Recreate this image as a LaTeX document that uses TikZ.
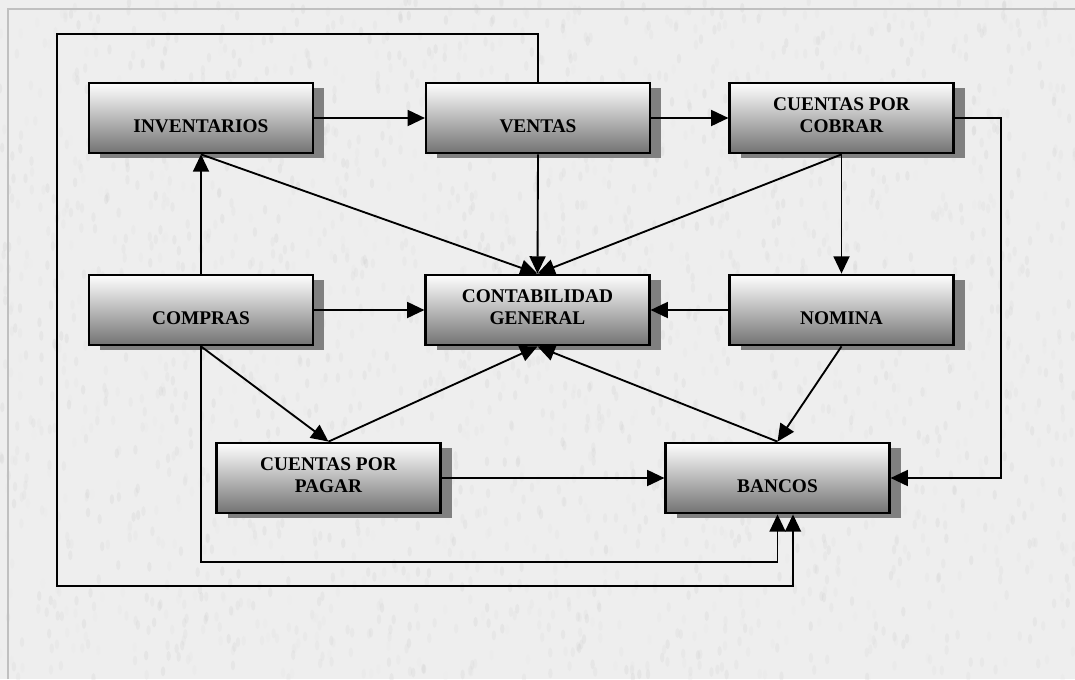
\documentclass[tikz,border=0pt]{standalone}
\usepackage{fontspec}
\setmainfont{Liberation Serif}
\usetikzlibrary{arrows.meta,shadows,calc}

\definecolor{paper}{RGB}{238,238,238}
\definecolor{edgegray}{RGB}{192,192,192}
\definecolor{shade}{RGB}{128,128,128}

\tikzset{
  box/.style={draw=black, line width=1.6pt, rectangle,
    minimum width=168pt, minimum height=53pt, inner sep=0pt,
    top color=white, bottom color=black!55,
    drop shadow={shadow xshift=8.25pt, shadow yshift=-3.75pt,
                 fill=shade, opacity=1}},
  txt/.style={font=\bfseries\fontsize{14.5}{16.5}\selectfont, align=center,
    inner sep=0pt, text=black},
  link/.style={line width=1.4pt, draw=black},
  arr/.style={link, -{Triangle[length=13pt,width=12pt]}},
}

\begin{document}
\begin{tikzpicture}[x=0.75pt,y=-0.75pt]
  % marbled paper background and its frame
  \fill[paper] (0,0) rectangle (1075,679);
  \useasboundingbox (0,0) rectangle (1075,679);
  \pgfmathsetseed{7}
  \foreach \i in {1,...,2600} {
    \pgfmathsetmacro{\px}{rnd*1075}
    \pgfmathsetmacro{\py}{rnd*679}
    \pgfmathsetmacro{\pg}{8+rnd*14}
    \fill[black!\pg, opacity=0.22] (\px,\py) ellipse (2.2 and 5);
  }
  \draw[edgegray, line width=1.5pt] (8,679) -- (8,9) -- (1075,9);

  % boxes
  \node[box] (inv) at (201,118)   {};
  \node[box] (ven) at (538,118)   {};
  \node[box] (cxc) at (841.5,118) {};
  \node[box] (com) at (201,310) {};
  \node[box] (cg)  at (537.5,310) {};
  \node[box] (nom) at (841.5,310) {};
  \node[box] (cxp) at (328.5,478) {};
  \node[box] (ban) at (777.5,478) {};

  % box texts
  \node[txt] (inv-t) at ($(inv.center)+(0,8)$)  {INVENTARIOS};
  \node[txt] (ven-t) at ($(ven.center)+(0,8)$)  {VENTAS};
  \node[txt] (cxc-t) at ($(cxc.center)+(0,-3)$) {CUENTAS POR\\COBRAR};
  \node[txt] (com-t) at ($(com.center)+(0,8)$)  {COMPRAS};
  \node[txt] (cg-t)  at ($(cg.center)+(0,-3)$)  {CONTABILIDAD\\GENERAL};
  \node[txt] (nom-t) at ($(nom.center)+(0,8)$)  {NOMINA};
  \node[txt] (cxp-t) at ($(cxp.center)+(0,-3)$) {CUENTAS POR\\PAGAR};
  \node[txt] (ban-t) at ($(ban.center)+(0,8)$)  {BANCOS};

  % routing points of the long connectors
  \coordinate (ban-s2) at ($(ban.south)+(15.5,0)$);

  % straight connectors
  \draw[arr] (inv.east) -- (ven.west);
  \draw[arr] (ven.east) -- (cxc.west);
  \draw[arr] (com.north) -- (inv.south);
  \draw[arr] (com.east) -- (cg.west);
  \draw[arr] (nom.west) -- (cg.east);
  \draw[arr] (cxp.east) -- (ban.west);
  \draw[arr] (cxc.south) -- (nom.north);
  \draw[arr] (inv.south) -- (cg.north);
  \draw[arr] (ven.south) -- (cg.north);
  \draw[arr] (cxc.south) -- (cg.north);
  \draw[arr] (com.south) -- (cxp.north);
  \draw[arr] (cxp.north) -- (cg.south);
  \draw[arr] (ban.north) -- (cg.south);
  \draw[arr] (nom.south) -- (ban.north);

  % routed connectors
  \draw[arr] (cxc.east) -- (1001,118) |- (ban.east);
  \draw[arr] (com.south) |- (ban.south |- 0,562) -- (ban.south);
  \draw[arr] (ven.north) |- (57,34) |- (ban-s2 |- 0,586) -- (ban-s2);
\end{tikzpicture}
\end{document}
